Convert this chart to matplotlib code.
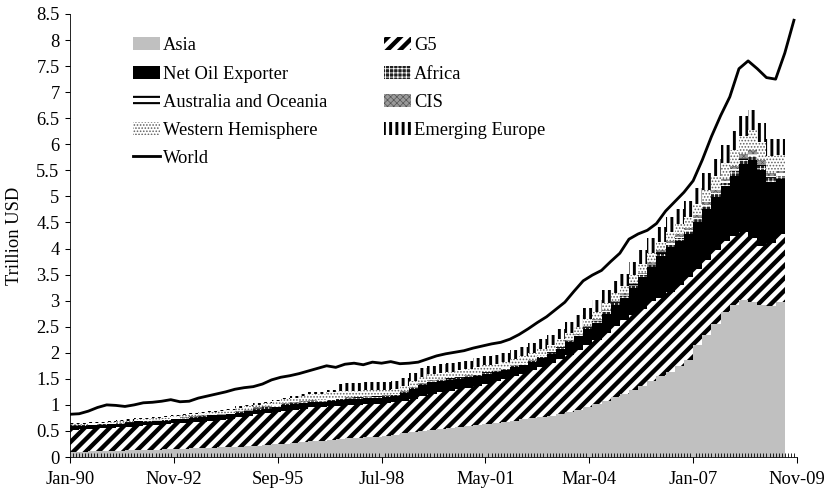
import numpy as np
import matplotlib
matplotlib.use("Agg")
import matplotlib.pyplot as plt
from matplotlib.ticker import FixedLocator, MultipleLocator

# quarterly values, Q1 1990 .. Q2 2009 (trillion USD)
asia = [0.10, 0.10, 0.11, 0.11, 0.12, 0.12, 0.13, 0.13, 0.14, 0.14, 0.15, 0.15,
        0.16, 0.17, 0.17, 0.18, 0.19, 0.20, 0.20, 0.21, 0.22, 0.23, 0.24, 0.25,
        0.27, 0.28, 0.30, 0.31, 0.33, 0.35, 0.36, 0.37, 0.38, 0.39, 0.40, 0.42,
        0.46, 0.48, 0.50, 0.52, 0.54, 0.56, 0.58, 0.60, 0.62, 0.64, 0.66, 0.68,
        0.70, 0.72, 0.74, 0.76, 0.79, 0.83, 0.87, 0.91, 0.96, 1.02, 1.08, 1.15,
        1.20, 1.28, 1.37, 1.45, 1.55, 1.64, 1.74, 1.86, 2.15, 2.35, 2.55, 2.78,
        2.92, 3.02, 2.98, 2.92, 2.90, 2.98]
g5 = [0.42, 0.43, 0.43, 0.44, 0.44, 0.45, 0.45, 0.47, 0.47, 0.48, 0.48, 0.50,
      0.50, 0.50, 0.51, 0.52, 0.52, 0.53, 0.56, 0.58, 0.60, 0.62, 0.63, 0.64,
      0.64, 0.65, 0.65, 0.65, 0.64, 0.63, 0.63, 0.63, 0.63, 0.63, 0.63, 0.63,
      0.62, 0.64, 0.67, 0.69, 0.70, 0.71, 0.72, 0.73, 0.74, 0.76, 0.79, 0.82,
      0.85, 0.88, 0.92, 0.96, 1.01, 1.05, 1.09, 1.14, 1.19, 1.23, 1.30, 1.37,
      1.43, 1.45, 1.47, 1.55, 1.50, 1.53, 1.56, 1.59, 1.45, 1.43, 1.43, 1.37,
      1.33, 1.30, 1.22, 1.13, 1.20, 1.30]
net_oil = [0.08, 0.07, 0.07, 0.07, 0.07, 0.07, 0.07, 0.07, 0.07, 0.07, 0.07, 0.07,
           0.07, 0.08, 0.09, 0.08, 0.09, 0.09, 0.09, 0.09, 0.09, 0.08, 0.09, 0.10,
           0.10, 0.10, 0.10, 0.10, 0.11, 0.12, 0.12, 0.12, 0.12, 0.12, 0.12, 0.12,
           0.14, 0.18, 0.21, 0.22, 0.22, 0.21, 0.20, 0.20, 0.20, 0.20, 0.18, 0.17,
           0.17, 0.17, 0.17, 0.18, 0.18, 0.20, 0.24, 0.27, 0.30, 0.33, 0.37, 0.40,
           0.42, 0.52, 0.61, 0.65, 0.80, 0.85, 0.85, 0.83, 0.90, 0.97, 1.00, 1.05,
           1.15, 1.30, 1.50, 1.45, 1.18, 1.05]
africa = [0.01, 0.01, 0.01, 0.01, 0.01, 0.01, 0.01, 0.01, 0.01, 0.01, 0.01, 0.01,
          0.01, 0.01, 0.01, 0.01, 0.01, 0.01, 0.01, 0.01, 0.02, 0.02, 0.02, 0.02,
          0.02, 0.02, 0.02, 0.02, 0.02, 0.02, 0.02, 0.02, 0.02, 0.02, 0.02, 0.02,
          0.02, 0.02, 0.02, 0.02, 0.02, 0.02, 0.02, 0.02, 0.02, 0.02, 0.02, 0.02,
          0.02, 0.02, 0.02, 0.02, 0.02, 0.02, 0.02, 0.02, 0.03, 0.03, 0.03, 0.03,
          0.04, 0.04, 0.04, 0.04, 0.05, 0.05, 0.05, 0.05, 0.06, 0.06, 0.06, 0.06,
          0.08, 0.08, 0.08, 0.08, 0.07, 0.07]
australia = [0.01, 0.01, 0.01, 0.01, 0.01, 0.01, 0.01, 0.01, 0.01, 0.01, 0.01, 0.01,
             0.01, 0.01, 0.01, 0.01, 0.01, 0.01, 0.01, 0.01, 0.01, 0.01, 0.01, 0.01,
             0.01, 0.01, 0.01, 0.01, 0.01, 0.01, 0.01, 0.01, 0.01, 0.01, 0.01, 0.01,
             0.01, 0.01, 0.01, 0.01, 0.01, 0.01, 0.01, 0.01, 0.01, 0.01, 0.01, 0.01,
             0.01, 0.01, 0.01, 0.01, 0.01, 0.01, 0.01, 0.01, 0.02, 0.02, 0.02, 0.02,
             0.02, 0.02, 0.02, 0.02, 0.03, 0.03, 0.03, 0.03, 0.03, 0.03, 0.03, 0.03,
             0.04, 0.04, 0.04, 0.04, 0.04, 0.04]
cis = [0.00, 0.00, 0.00, 0.00, 0.00, 0.00, 0.00, 0.00, 0.00, 0.00, 0.00, 0.00,
       0.01, 0.01, 0.01, 0.01, 0.01, 0.01, 0.01, 0.01, 0.01, 0.01, 0.01, 0.01,
       0.01, 0.01, 0.01, 0.01, 0.01, 0.01, 0.01, 0.01, 0.01, 0.01, 0.01, 0.01,
       0.01, 0.01, 0.01, 0.01, 0.01, 0.01, 0.01, 0.01, 0.01, 0.01, 0.01, 0.01,
       0.01, 0.01, 0.01, 0.01, 0.01, 0.01, 0.01, 0.01, 0.02, 0.02, 0.02, 0.02,
       0.03, 0.03, 0.03, 0.03, 0.04, 0.04, 0.04, 0.04, 0.05, 0.05, 0.05, 0.05,
       0.07, 0.07, 0.07, 0.07, 0.05, 0.05]
west_hem = [0.02, 0.02, 0.02, 0.02, 0.03, 0.03, 0.03, 0.03, 0.03, 0.04, 0.04, 0.04,
            0.04, 0.04, 0.04, 0.05, 0.05, 0.05, 0.06, 0.06, 0.05, 0.06, 0.07, 0.08,
            0.09, 0.10, 0.11, 0.11, 0.12, 0.12, 0.12, 0.11, 0.11, 0.10, 0.10, 0.10,
            0.11, 0.11, 0.12, 0.12, 0.12, 0.12, 0.12, 0.12, 0.12, 0.12, 0.12, 0.12,
            0.12, 0.13, 0.13, 0.13, 0.13, 0.14, 0.14, 0.14, 0.12, 0.13, 0.14, 0.15,
            0.14, 0.15, 0.16, 0.17, 0.16, 0.18, 0.20, 0.21, 0.22, 0.24, 0.28, 0.31,
            0.31, 0.35, 0.39, 0.36, 0.34, 0.31]
em_europe = [0.02, 0.02, 0.02, 0.02, 0.02, 0.02, 0.02, 0.02, 0.02, 0.02, 0.02, 0.02,
             0.03, 0.03, 0.03, 0.03, 0.03, 0.03, 0.03, 0.03, 0.03, 0.03, 0.03, 0.03,
             0.04, 0.04, 0.04, 0.04, 0.05, 0.14, 0.15, 0.15, 0.15, 0.15, 0.15, 0.15,
             0.15, 0.16, 0.16, 0.16, 0.16, 0.16, 0.16, 0.16, 0.17, 0.17, 0.17, 0.17,
             0.17, 0.18, 0.18, 0.19, 0.19, 0.20, 0.21, 0.22, 0.22, 0.23, 0.24, 0.24,
             0.24, 0.26, 0.28, 0.30, 0.28, 0.28, 0.29, 0.30, 0.30, 0.31, 0.32, 0.33,
             0.35, 0.38, 0.38, 0.36, 0.32, 0.30]

# World, every third month from Jan-90
world = [0.82, 0.83, 0.88, 0.95, 1.00, 0.99, 0.97, 1.00, 1.04, 1.05, 1.07, 1.10,
         1.06, 1.07, 1.13, 1.17, 1.21, 1.25, 1.30, 1.33, 1.35, 1.40, 1.48, 1.53,
         1.56, 1.60, 1.65, 1.70, 1.75, 1.72, 1.78, 1.80, 1.77, 1.82, 1.80, 1.83,
         1.79, 1.80, 1.82, 1.88, 1.94, 1.98, 2.01, 2.04, 2.09, 2.13, 2.17, 2.20,
         2.26, 2.35, 2.46, 2.58, 2.69, 2.83, 2.97, 3.18, 3.38, 3.49, 3.58, 3.75,
         3.91, 4.18, 4.28, 4.35, 4.48, 4.72, 4.90, 5.08, 5.30, 5.70, 6.15, 6.55,
         6.91, 7.45, 7.60, 7.45, 7.28, 7.25, 7.75, 8.38]

tick_months = [0, 34, 68, 102, 136, 170, 204, 238]
tick_labels = ["Jan-90", "Nov-92", "Sep-95", "Jul-98", "May-01", "Mar-04", "Jan-07", "Nov-09"]

DPI = 75
FS = 17.8
plt.rcParams["font.family"] = ["Liberation Serif", "DejaVu Serif"]
plt.rcParams["hatch.linewidth"] = 1.0

fig = plt.figure(figsize=(827 / DPI, 494 / DPI), dpi=DPI)
ax = fig.add_axes([70 / 827, 37 / 494, 727 / 827, 443 / 494])

# name, values, face, hatch colour, hatch, hatch width
layers = [
    ("Asia", asia, "#c0c0c0", "#c0c0c0", None, 1.0),
    ("G5", g5, "white", "black", "//", 4.2),
    ("Net Oil Exporter", net_oil, "black", "black", None, 1.0),
    ("Africa", africa, "#202020", "white", "+++", 0.8),
    ("Australia and Oceania", australia, "white", "black", "--", 2.0),
    ("CIS", cis, "#9a9a9a", "#505050", "xxxx", 0.6),
    ("Western Hemisphere", west_hem, "white", "#606060", "....", 1.0),
    ("Emerging Europe", em_europe, "white", "black", "||", 2.8),
]

xq = np.arange(len(asia)) * 3
bottom = np.zeros(len(xq))
handles = {}
for name, vals, face, hc, hatch, hlw in layers:
    vals = np.array(vals)
    bars = ax.bar(xq, vals, width=3, bottom=bottom, align="edge", color=face,
                  edgecolor=hc, linewidth=0, hatch=hatch, label=name,
                  antialiased=False)
    for p in bars:
        if hasattr(p, "set_hatch_linewidth"):
            p.set_hatch_linewidth(hlw)
    handles[name] = bars
    bottom += vals

line, = ax.plot(np.arange(len(world)) * 3, world, color="black", lw=2.7, label="World")
handles["World"] = line

ax.set_xlim(0, 238)
ax.set_ylim(0, 8.5)
ax.xaxis.set_major_locator(FixedLocator(tick_months))
ax.set_xticklabels(tick_labels)
ax.xaxis.set_minor_locator(MultipleLocator(1))
ax.yaxis.set_major_locator(MultipleLocator(0.5))
ax.yaxis.set_major_formatter(plt.FuncFormatter(lambda v, p: "%g" % v))
ax.tick_params(axis="x", which="major", direction="out", length=6, width=1,
               labelsize=FS, pad=7)
ax.tick_params(axis="x", which="minor", direction="in", length=4, width=0.8)
ax.tick_params(axis="y", which="major", direction="out", length=5, width=1,
               labelsize=FS, pad=5)
for s in ["top", "right"]:
    ax.spines[s].set_visible(False)
ax.set_ylabel("Trillion USD", fontsize=FS, va="center")
ax.yaxis.set_label_coords(-0.076, 0.5)

order = ["Asia", "Net Oil Exporter", "Australia and Oceania", "Western Hemisphere",
         "World", "G5", "Africa", "CIS", "Emerging Europe"]
leg = ax.legend([handles[n] for n in order], order, ncol=2, loc="upper left",
                bbox_to_anchor=(0.0867, 0.947), frameon=False, fontsize=FS,
                borderpad=0, borderaxespad=0, handlelength=1.45,
                handletextpad=0.15, columnspacing=3.1, labelspacing=0.6)
lw_map = {l[0]: l[5] for l in layers}
for txt, p in zip(leg.get_texts(), leg.legend_handles):
    n = txt.get_text()
    if n in lw_map and hasattr(p, "set_hatch_linewidth"):
        p.set_hatch_linewidth(lw_map[n])

fig.savefig("out.png", dpi=DPI)
